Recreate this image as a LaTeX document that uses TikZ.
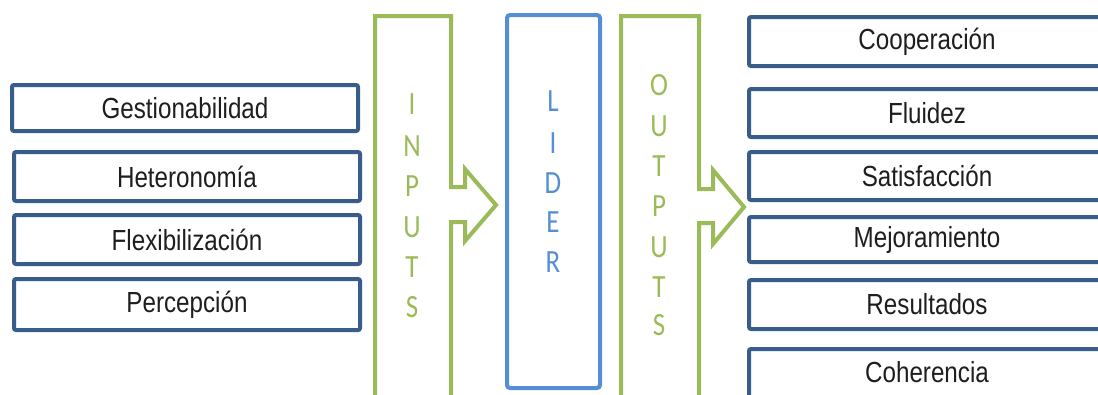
\documentclass[tikz,border=0pt]{standalone}
\usepackage{fontspec}
\setmainfont{Liberation Sans}
\newfontfamily\calfont{Carlito}
\definecolor{boxblue}{HTML}{385D8A}
\definecolor{arrgreen}{HTML}{9BBB59}
\definecolor{lidblue}{HTML}{558ED5}
\definecolor{txt}{HTML}{1E1E1E}
\newcommand{\bt}[1]{\scalebox{1}[1.2]{\fontsize{24.2}{24}\selectfont #1}}
\newcommand{\lt}[1]{\scalebox{1}[1.2]{\calfont\fontsize{27}{27}\selectfont #1}}
\begin{document}
\begin{tikzpicture}[x=1pt,y=-1pt,
  itembox/.style={draw=boxblue,line width=4pt,rounded corners=2pt,fill=white,
    text=txt,inner sep=0pt,minimum width=346pt},
  ritembox/.style={itembox,minimum width=356pt},
  letter/.style={inner sep=0pt,text=arrgreen},
  lletter/.style={inner sep=0pt,text=lidblue}]
\useasboundingbox (0,0) rectangle (1098,394);
\clip (0,0) rectangle (1098,394);
% left boxes
\node[itembox,minimum height=46pt] (g) at (185,108) {\bt{Gestionabilidad}};
\node[itembox,minimum height=49pt] (h) at (187,176.5) {\bt{Heteronomía}};
\node[itembox,minimum height=49pt] (f) at (187,239.5) {\bt{Flexibilización}};
\node[itembox,minimum height=51pt] (p) at (187,304.5) {\bt{Percepción}};
% INPUTS arrow
\draw[arrgreen,line width=4pt,line join=miter]
  (375,420) -- (375,16) -- (451,16) -- (451,187) -- (465,187) -- (465,169)
  -- (496,205) -- (465,241) -- (465,222) -- (451,222) -- (451,420);
\foreach \c/\y in {I/104,N/146,P/186,U/227,T/267,S/307}
  \node[letter] at (412,\y) {\lt{\c}};
% LIDER box
\draw[lidblue,line width=4pt,rounded corners=3pt] (507,15) rectangle (600,388);
\foreach \c/\y in {L/101,I/143,D/183,E/222,R/262}
  \node[lletter] at (553,\y) {\lt{\c}};
% OUTPUTS arrow
\draw[arrgreen,line width=4pt,line join=miter]
  (621,420) -- (621,16) -- (699,16) -- (699,189) -- (713,189) -- (713,170)
  -- (744,207) -- (713,244) -- (713,223) -- (699,223) -- (699,420);
\foreach \c/\y in {O/85,U/126,T/166,P/206,U/247,T/287,S/325}
  \node[letter] at (659,\y) {\lt{\c}};
% right boxes
\node[ritembox,minimum height=49pt] (c1) at (927,41.5) {\bt{Cooperación}};
\node[ritembox,minimum height=48pt] (c2) at (927,113) {\bt{Fluidez}};
\node[ritembox,minimum height=48pt] (c3) at (927,176) {\bt{Satisfacción}};
\node[ritembox,minimum height=45pt] (c4) at (927,239.5) {\bt{Mejoramiento}};
\node[ritembox,minimum height=49pt] (c5) at (927,304.5) {\bt{Resultados}};
\node[ritembox,minimum height=70pt] (c6) at (927,384) {};
\node[inner sep=0pt,text=txt] (c6t) at (927,372) {\bt{Coherencia}};
\end{tikzpicture}
\end{document}
